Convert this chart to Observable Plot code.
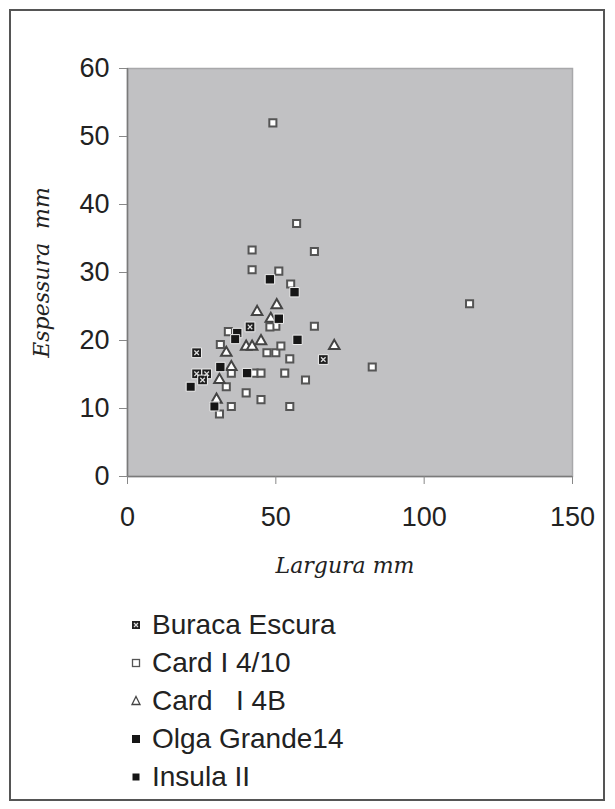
<!DOCTYPE html>
<html>
<head>
<meta charset="utf-8">
<script src="https://cdn.jsdelivr.net/npm/d3@7"></script>
<script src="https://cdn.jsdelivr.net/npm/@observablehq/plot@0.6"></script>
<style>
  html, body { margin: 0; padding: 0; background: #fff; }
  #page { position: relative; width: 615px; height: 809px; overflow: hidden; }
  #border { position: absolute; left: 9px; top: 9px; width: 592px; height: 788px; border: 2px solid #555; }
  #chart { position: absolute; left: 0; top: 0; }
  #legend { position: absolute; left: 128px; top: 606px; font-family: "Liberation Sans", Arial, sans-serif; font-size: 28px; color: #222; }
  .row { height: 38px; display: flex; align-items: center; white-space: pre; }
  .row svg { width: 16px; height: 16px; margin-right: 8px; }
</style>
</head>
<body>
<div id="page">
  <div id="border"></div>
  <div id="chart"></div>
  <div id="legend"></div>
</div>
<script>
// ---- data (Largura mm, Espessura mm) ----
const seriesNames = ["Buraca Escura", "Card I 4/10", "Card   I 4B", "Olga Grande14", "Insula II"];

const buracaX = [23.3, 23.3, 26.7, 25.3, 41.3, 66];
const buracaY = [18.2, 15.1, 15.1, 14.2, 22, 17.2];

const card410X = [49, 57, 42, 63, 42, 51, 55, 34, 31.3, 50, 48, 63, 47, 50, 51.7, 54.7, 35, 42.7, 45, 53, 60, 33.3, 40, 45, 54.7, 35, 31, 82.5, 115.3];
const card410Y = [52, 37.2, 33.3, 33.1, 30.4, 30.2, 28.3, 21.3, 19.4, 22.1, 22, 22.1, 18.2, 18.2, 19.2, 17.3, 15.2, 15.2, 15.2, 15.2, 14.2, 13.2, 12.3, 11.3, 10.3, 10.3, 9.2, 16.1, 25.4];

const card4BX = [30, 31, 35, 33.3, 40, 42, 45, 43.7, 50.3, 48.3, 69.7];
const card4BY = [11.3, 14.2, 16.1, 18.2, 19.1, 19.1, 19.9, 24.2, 25.2, 23.2, 19.2];

const olgaX = [48, 56.3, 51, 57.3, 37, 31.3, 40.3];
const olgaY = [29, 27.1, 23.2, 20.1, 21.1, 16.1, 15.2];

const insulaX = [36.3, 21.3, 29.3];
const insulaY = [20.2, 13.2, 10.3];

const xTicks = [0, 50, 100, 150];
const yTicks = [0, 10, 20, 30, 40, 50, 60];

const pts = (xs, ys) => xs.map((x, i) => ({x, y: ys[i]}));
const buraca = pts(buracaX, buracaY);
const card410 = pts(card410X, card410Y);
const card4B = pts(card4BX, card4BY);
const olga = pts(olgaX, olgaY);
const insula = pts(insulaX, insulaY);

const sans = "'Liberation Sans', Arial, sans-serif";
const serif = "'DejaVu Serif', 'Liberation Serif', serif";

const chart = Plot.plot({
  width: 615,
  height: 600,
  marginLeft: 127,
  marginRight: 43,
  marginTop: 68,
  marginBottom: 124,
  style: {fontFamily: sans, fontSize: "26px", color: "#222", background: "transparent", overflow: "visible"},
  x: {domain: [0, 150], label: null},
  y: {domain: [0, 60], label: null},
  marks: [
    Plot.frame({fill: "#c1c1c3", stroke: "#a8a8aa", strokeWidth: 1.5}),
    Plot.ruleY([0], {stroke: "#7a7a7a", strokeWidth: 1.5}),
    Plot.ruleX([0], {stroke: "#7a7a7a", strokeWidth: 1.5}),
    Plot.axisX({ticks: xTicks, tickSize: 8, tickPadding: 22, stroke: "#888", fill: "#222", fontSize: 27, label: null}),
    Plot.axisY({ticks: yTicks, tickSize: 8, tickPadding: 10, stroke: "#888", fill: "#222", fontSize: 27, label: null}),
    // Card I 4/10 open squares
    Plot.dot(card410, {x: "x", y: "y", symbol: "square", r: 4, fill: "#fff", stroke: "#555", strokeWidth: 2}),
    // Card I 4B triangles
    Plot.dot(card4B, {x: "x", y: "y", symbol: "triangle", r: 3.9, fill: "#fff", stroke: "#444", strokeWidth: 2}),
    // Olga Grande14 black squares
    Plot.dot(olga, {x: "x", y: "y", symbol: "square", r: 5.3, fill: "#161616", stroke: "#eee", strokeWidth: 1}),
    // Insula II black squares
    Plot.dot(insula, {x: "x", y: "y", symbol: "square", r: 5.1, fill: "#161616", stroke: "#eee", strokeWidth: 1}),
    // Buraca Escura: black square with white cross
    Plot.dot(buraca, {x: "x", y: "y", symbol: "square", r: 5.5, fill: "#1e1e1e", stroke: "#eee", strokeWidth: 1}),
    Plot.dot(buraca, {x: "x", y: "y", symbol: "times", r: 2.2, stroke: "#ddd", strokeWidth: 1.3}),
    // axis labels
    Plot.text(["Espessura  mm"], {frameAnchor: "left", dx: -86, rotate: -90, textAnchor: "middle", fontFamily: serif, fontStyle: "italic", fontSize: 22, fill: "#222"}),
    Plot.text(["Largura mm"], {frameAnchor: "bottom", textAnchor: "middle", dx: -5, dy: 96, fontFamily: serif, fontStyle: "italic", fontSize: 22, fill: "#222"})
  ]
});
document.getElementById("chart").appendChild(chart);

// legend
const legendMarkers = [
  '<rect x="4" y="4" width="8" height="8" fill="#222"/><path d="M6 6 L10 10 M10 6 L6 10" stroke="#ddd" stroke-width="1.2"/>',
  '<rect x="4.5" y="4.5" width="7" height="7" fill="#fff" stroke="#555" stroke-width="1.3"/>',
  '<path d="M8 3.5 L12 11.5 L4 11.5 Z" fill="#fff" stroke="#444" stroke-width="1.3"/>',
  '<rect x="4" y="4" width="8" height="8" fill="#161616"/>',
  '<rect x="4.5" y="4.5" width="7" height="7" fill="#161616"/>'
];
const legend = document.getElementById("legend");
seriesNames.forEach((name, i) => {
  const row = document.createElement("div");
  row.className = "row";
  row.innerHTML = `<svg viewBox="0 0 16 16">${legendMarkers[i]}</svg><span>${name}</span>`;
  legend.appendChild(row);
});
</script>
</body>
</html>
